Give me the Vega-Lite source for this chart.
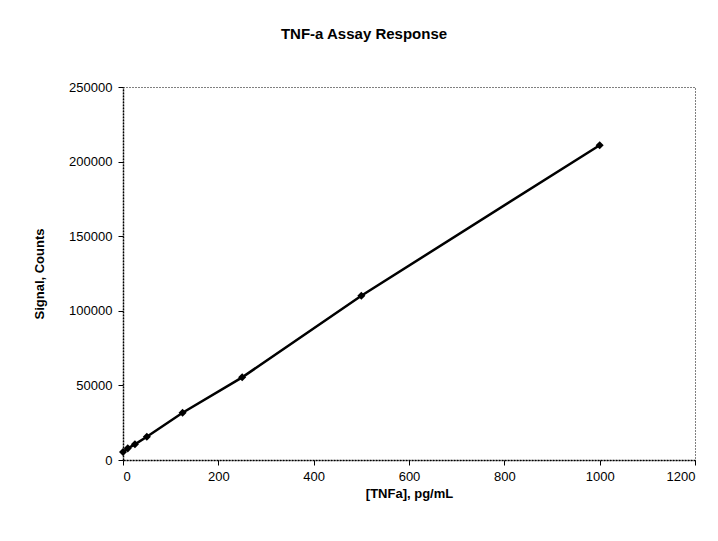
{
  "$schema": "https://vega.github.io/schema/vega-lite/v6.json",
  "width": 572,
  "height": 373,
  "autosize": {"type": "none"},
  "padding": {"left": 123, "top": 87, "right": 23, "bottom": 81},
  "background": "white",
  "title": {
    "text": "TNF-a Assay Response",
    "font": "Liberation Sans",
    "fontSize": 15,
    "fontWeight": "bold",
    "color": "black",
    "anchor": "middle",
    "dx": -45,
    "offset": 39
  },
  "config": {
    "view": {"stroke": "black", "strokeDash": [1, 2], "strokeWidth": 1},
    "axis": {
      "labelFont": "Liberation Sans",
      "labelFontSize": 13,
      "labelColor": "black",
      "titleFont": "Liberation Sans",
      "titleFontSize": 13,
      "titleFontWeight": "bold",
      "titleColor": "black",
      "domainColor": "black",
      "domainDash": [2, 1],
      "domainWidth": 1.5,
      "tickColor": "black",
      "tickSize": 5,
      "grid": false
    }
  },
  "data": {
    "values": [
      {"conc": 0, "signal": 5400},
      {"conc": 10, "signal": 7800},
      {"conc": 25, "signal": 10500},
      {"conc": 50, "signal": 15600},
      {"conc": 125, "signal": 31700},
      {"conc": 250, "signal": 55400},
      {"conc": 500, "signal": 110100},
      {"conc": 1000, "signal": 211000}
    ]
  },
  "encoding": {
    "x": {
      "field": "conc",
      "type": "quantitative",
      "scale": {"domain": [0, 1200], "nice": false},
      "axis": {"values": [0, 200, 400, 600, 800, 1000, 1200], "format": "d", "title": "[TNFa], pg/mL", "labelPadding": 5, "titlePadding": 4}
    },
    "y": {
      "field": "signal",
      "type": "quantitative",
      "scale": {"domain": [0, 250000], "nice": false},
      "axis": {"values": [0, 50000, 100000, 150000, 200000, 250000], "format": "d", "title": "Signal, Counts", "labelPadding": 6, "titlePadding": 22}
    }
  },
  "layer": [
    {"mark": {"type": "line", "color": "black", "strokeWidth": 2.5, "interpolate": "linear"}},
    {"mark": {"type": "point", "shape": "diamond", "filled": true, "color": "black", "size": 65, "opacity": 1}}
  ]
}
